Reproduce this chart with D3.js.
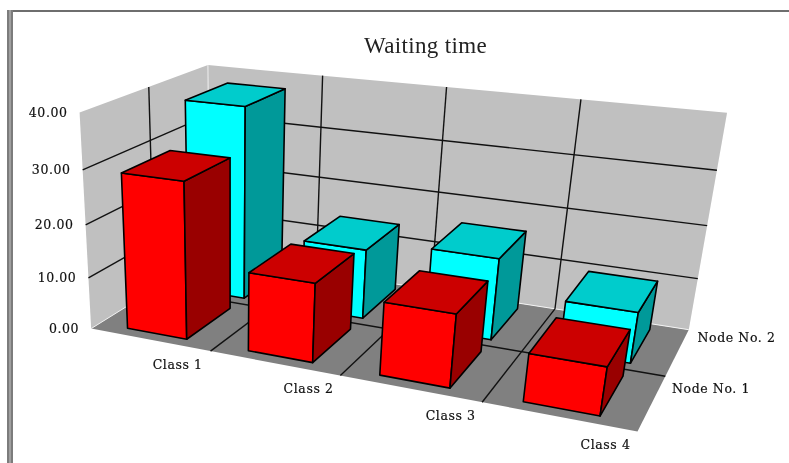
<!DOCTYPE html>
<html>
<head>
<meta charset="utf-8">
<script src="https://cdn.jsdelivr.net/npm/d3@7"></script>
<style>
  html, body { margin: 0; padding: 0; background: #fff; }
  svg { display: block; filter: blur(0.35px); }
  text { font-family: "DejaVu Serif", serif; fill: #111; }
</style>
</head>
<body>
<svg id="chart" width="789" height="463"></svg>
<script>
const classes = ["Class 1", "Class 2", "Class 3", "Class 4"];
const nodes = ["Node No. 1", "Node No. 2"];
const node1Values = [29.4, 14.7, 13.3, 8.6];
const node2Values = [37.5, 13.5, 15.5, 9.5];
const valueTicks = [0, 10, 20, 30, 40];
const chartTitle = "Waiting time";

const svg = d3.select("#chart");

// data space -> wall units
const xBand = d3.scaleBand().domain(classes).range([0, 4]).paddingInner(0.5).paddingOuter(0.25).align(0.48);
const zBand = d3.scaleBand().domain(nodes).range([0, 2]).paddingInner(0.26).paddingOuter(0.13);
const yScale = d3.scaleLinear().domain([0, 40]).range([0, 1]);
const fmt = d3.format(".2f");

// reference points of the box on the screen, [x, y, z, screenX, screenY]
const calib = [
  [0, 0, 0, 92, 328], [1, 0, 0, 209, 352], [2, 0, 0, 341, 376], [3, 0, 0, 483, 402], [4, 0, 0, 637, 431],
  [4, 1, 0, 665, 377], [4, 2, 0, 689, 329], [0, 2, 1, 208, 66], [1, 2, 1, 322, 75], [2, 2, 1, 447, 87],
  [3, 2, 1, 581, 98], [4, 2, 1, 727, 114], [0, 0, 1, 80, 113], [0, 1, 1, 149, 87],
  [0, 0, 0.75, 82, 169], [4, 2, 0.75, 717, 170], [4, 2, 0.5, 707, 226]
].map(d => ({ X: d[0], Z: d[1], Y: d[2], u: d[3], v: d[4] }));

const P = solveCamera(calib);

function project(X, Z, Y) {
  const w = P[8] * X + P[9] * Y + P[10] * Z + 1;
  return [
    (P[0] * X + P[1] * Y + P[2] * Z + P[3]) / w,
    (P[4] * X + P[5] * Y + P[6] * Z + P[7]) / w
  ];
}

// least squares for the 3x4 projection matrix
function solveCamera(points) {
  const n = 11;
  const A = d3.range(n).map(() => new Array(n + 1).fill(0));
  const addRow = (row, rhs) => {
    for (let i = 0; i < n; i++) {
      for (let j = 0; j < n; j++) A[i][j] += row[i] * row[j];
      A[i][n] += row[i] * rhs;
    }
  };
  points.forEach(p => {
    addRow([p.X, p.Y, p.Z, 1, 0, 0, 0, 0, -p.u * p.X, -p.u * p.Y, -p.u * p.Z], p.u);
    addRow([0, 0, 0, 0, p.X, p.Y, p.Z, 1, -p.v * p.X, -p.v * p.Y, -p.v * p.Z], p.v);
  });
  for (let i = 0; i < n; i++) {
    let best = i;
    for (let r = i + 1; r < n; r++) if (Math.abs(A[r][i]) > Math.abs(A[best][i])) best = r;
    [A[i], A[best]] = [A[best], A[i]];
    for (let r = 0; r < n; r++) {
      if (r === i) continue;
      const f = A[r][i] / A[i][i];
      for (let c = i; c <= n; c++) A[r][c] -= f * A[i][c];
    }
  }
  return A.map((row, i) => row[n] / row[i]);
}

const poly = pts => d3.line()(pts.map(p => project(p[0], p[1], p[2]))) + "Z";

function addLine(g, a, b, color, width) {
  const p = project(a[0], a[1], a[2]);
  const q = project(b[0], b[1], b[2]);
  g.append("line")
    .attr("x1", p[0]).attr("y1", p[1])
    .attr("x2", q[0]).attr("y2", q[1])
    .attr("stroke", color)
    .attr("stroke-width", width);
}

// outer frame
svg.append("rect").attr("x", 7).attr("y", 10).attr("width", 782).attr("height", 2).attr("fill", "#6e6e6e");
svg.append("rect").attr("x", 7).attr("y", 10).attr("width", 6).attr("height", 453).attr("fill", "#7c7c7c");
svg.append("rect").attr("x", 9).attr("y", 10).attr("width", 2).attr("height", 453).attr("fill", "#a0a0a0");

// walls and floor
svg.append("path").attr("d", poly([[0, 0, 0], [0, 2, 0], [0, 2, 1], [0, 0, 1]])).attr("fill", "#c0c0c0");
svg.append("path").attr("d", poly([[0, 2, 0], [4, 2, 0], [4, 2, 1], [0, 2, 1]])).attr("fill", "#c0c0c0");
svg.append("path").attr("d", poly([[0, 0, 0], [4, 0, 0], [4, 2, 0], [0, 2, 0]])).attr("fill", "#808080");

const grid = svg.append("g");
addLine(grid, [0, 2, 0], [0, 2, 1], "#f0f0f0", 1);
addLine(grid, [0, 2, 0], [4, 2, 0], "#f4f4f4", 1);
addLine(grid, [0, 0, 0], [0, 2, 0], "#f0f0f0", 1);

valueTicks.slice(1, -1).forEach(v => {
  addLine(grid, [0, 0, yScale(v)], [0, 2, yScale(v)], "#111", 1.4);
  addLine(grid, [0, 2, yScale(v)], [4, 2, yScale(v)], "#111", 1.4);
});
addLine(grid, [0, 1, 0], [0, 1, 1], "#111", 1.4);
addLine(grid, [0, 1, 0], [4, 1, 0], "#111", 1.4);
d3.range(1, classes.length).forEach(i => {
  addLine(grid, [i, 2, 0], [i, 2, 1], "#111", 1.4);
  addLine(grid, [i, 0, 0], [i, 2, 0], "#111", 1.4);
});

// bars, back row first and right to left so the nearer ones cover the others
const barData = [];
[node2Values, node1Values].forEach((vals, k) => {
  d3.range(classes.length - 1, -1, -1).forEach(i => {
    barData.push({ cls: classes[i], node: nodes[1 - k], value: vals[i], k });
  });
});
const frontColor = ["#00ffff", "#ff0000"];
const topColor = ["#00cccc", "#cc0000"];
const sideColor = ["#009999", "#990000"];

const bars = svg.append("g").selectAll("g").data(barData).join("g");
function face(fill, corners) {
  bars.append("path")
    .attr("d", d => poly(corners(d, xBand(d.cls), xBand(d.cls) + xBand.bandwidth(),
      zBand(d.node), zBand(d.node) + zBand.bandwidth(), yScale(d.value))))
    .attr("fill", fill)
    .attr("stroke", "#000")
    .attr("stroke-width", 1.6)
    .attr("stroke-linejoin", "round");
}
face(d => frontColor[d.k], (d, x0, x1, z0, z1, h) => [[x0, z0, 0], [x1, z0, 0], [x1, z0, h], [x0, z0, h]]);
face(d => sideColor[d.k], (d, x0, x1, z0, z1, h) => [[x1, z0, 0], [x1, z1, 0], [x1, z1, h], [x1, z0, h]]);
face(d => topColor[d.k], (d, x0, x1, z0, z1, h) => [[x0, z0, h], [x1, z0, h], [x1, z1, h], [x0, z1, h]]);

// value labels on the left
svg.append("g").selectAll("text").data(valueTicks).join("text")
  .attr("x", d => project(0, 0, yScale(d))[0] - 12)
  .attr("y", d => project(0, 0, yScale(d))[1])
  .attr("dy", "0.35em")
  .attr("text-anchor", "end")
  .style("font-size", "12.5px")
  .style("letter-spacing", "0.6px")
  .style("stroke", "#111")
  .style("stroke-width", 0.2)
  .text(d => fmt(d));

// class labels under the front edge
svg.append("g").selectAll("text").data(classes).join("text")
  .attr("x", (d, i) => project(i + 0.5, 0, 0)[0] + 28 + i * 6.5)
  .attr("y", (d, i) => project(i + 0.5, 0, 0)[1] + 25 + i)
  .attr("dy", "0.35em")
  .attr("text-anchor", "middle")
  .style("font-size", "12.5px")
  .style("letter-spacing", "0.6px")
  .style("stroke", "#111")
  .style("stroke-width", 0.2)
  .text(d => d);

// node labels on the right
svg.append("g").selectAll("text").data(nodes).join("text")
  .attr("x", d => project(4, zBand(d) + zBand.bandwidth() / 2, 0)[0] + 20)
  .attr("y", d => project(4, zBand(d) + zBand.bandwidth() / 2, 0)[1] - 14)
  .attr("dy", "0.35em")
  .style("font-size", "12.5px")
  .style("letter-spacing", "0.6px")
  .style("stroke", "#111")
  .style("stroke-width", 0.2)
  .text(d => d);

svg.append("text")
  .attr("x", 425.5)
  .attr("y", 53)
  .attr("text-anchor", "middle")
  .style("font-family", "'Liberation Serif', serif")
  .style("font-size", "23px")
  .style("fill", "#222")
  .style("letter-spacing", "0.35px")
  .text(chartTitle);
</script>
</body>
</html>
